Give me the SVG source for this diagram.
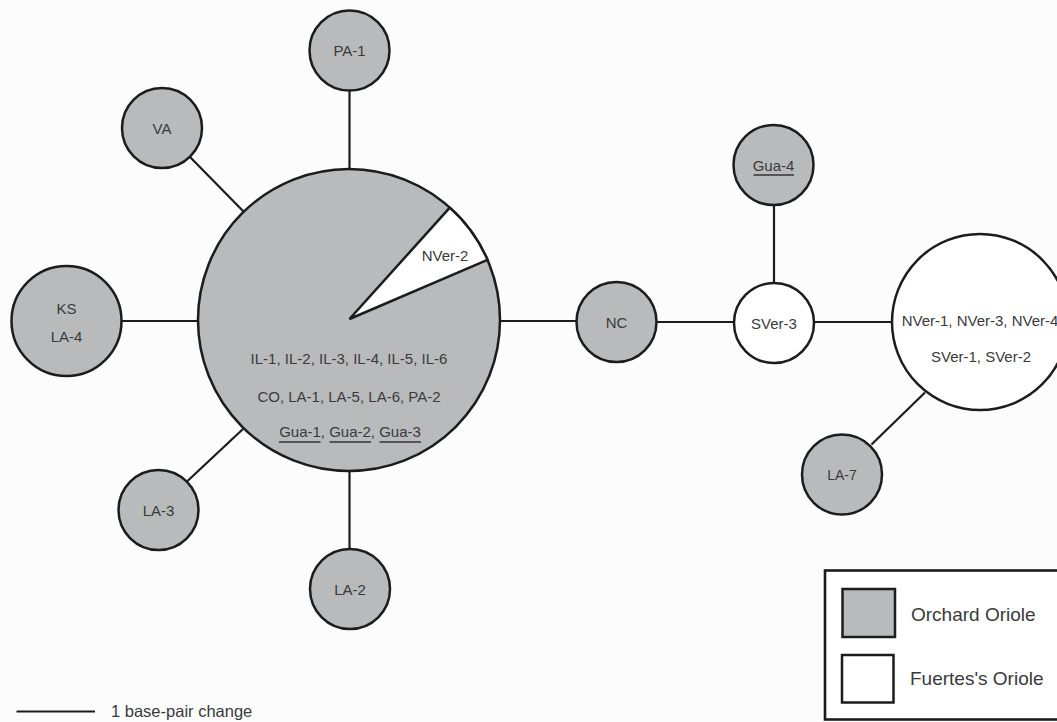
<svg xmlns="http://www.w3.org/2000/svg" width="1057" height="722" viewBox="0 0 1057 722">
<style>
  .bg{fill:#fcfcfc}
  .orch{fill:#b9babc;stroke:#1c1c1c;stroke-width:2.5}
  .fuer{fill:#ffffff;stroke:#1c1c1c;stroke-width:2.5}
  .edge{stroke:#1c1c1c;stroke-width:2.2;fill:none}
  .ul{stroke:#333;stroke-width:1.6}
  text{font-family:"Liberation Sans",Arial,Helvetica,sans-serif;font-size:15px;fill:#3a3a3a;text-anchor:middle}
  .leg{font-size:19px;text-anchor:start}
  .scale{font-size:16.5px;text-anchor:start}
</style>
<rect class="bg" x="0" y="0" width="1057" height="722"/>

<g id="connectors">
  <line class="edge" x1="349.5" y1="90" x2="349.5" y2="170"/>
  <line class="edge" x1="190" y1="157" x2="244" y2="212"/>
  <line class="edge" x1="121" y1="321" x2="199" y2="321"/>
  <line class="edge" x1="499" y1="321" x2="577" y2="321"/>
  <line class="edge" x1="656" y1="322" x2="734" y2="322"/>
  <line class="edge" x1="774" y1="205" x2="774" y2="283"/>
  <line class="edge" x1="814" y1="322" x2="892" y2="322"/>
  <line class="edge" x1="871.5" y1="444.5" x2="925" y2="392.5"/>
  <line class="edge" x1="187.5" y1="481" x2="243" y2="429"/>
  <line class="edge" x1="349.5" y1="470" x2="349.5" y2="549"/>
</g>

<g id="node-main">
  <circle class="orch" cx="349" cy="320" r="151"/>
  <path class="fuer" d="M349.5,319 L449.8,207.6 A151,151 0 0 1 487.5,259.8 Z"/>
  <text x="445" y="260.5">NVer-2</text>
  <text x="349" y="363.5">IL-1, IL-2, IL-3, IL-4, IL-5, IL-6</text>
  <text x="349" y="401.5">CO, LA-1, LA-5, LA-6, PA-2</text>
  <text x="350" y="437">Gua-1, Gua-2, Gua-3</text>
  <line class="ul" x1="279" y1="442" x2="320.5" y2="442"/>
  <line class="ul" x1="329.5" y1="442" x2="371" y2="442"/>
  <line class="ul" x1="379.5" y1="442" x2="421" y2="442"/>
</g>

<g id="node-PA-1">
  <circle class="orch" cx="349.5" cy="50.5" r="40"/>
  <text x="349.5" y="56">PA-1</text>
</g>
<g id="node-VA">
  <circle class="orch" cx="162" cy="128" r="40"/>
  <text x="162" y="134">VA</text>
</g>
<g id="node-KS-LA-4">
  <circle class="orch" cx="66.5" cy="321" r="55"/>
  <text x="66.5" y="313.5">KS</text>
  <text x="66.5" y="341.5">LA-4</text>
</g>
<g id="node-LA-3">
  <circle class="orch" cx="158.5" cy="510" r="40"/>
  <text x="158.5" y="516">LA-3</text>
</g>
<g id="node-LA-2">
  <circle class="orch" cx="350" cy="589" r="40"/>
  <text x="350" y="594.5">LA-2</text>
</g>
<g id="node-NC">
  <circle class="orch" cx="616.5" cy="322" r="40"/>
  <text x="616.5" y="327.5">NC</text>
</g>
<g id="node-Gua-4">
  <circle class="orch" cx="773.5" cy="165" r="40"/>
  <text x="773.5" y="170.5">Gua-4</text>
  <line class="ul" x1="753.5" y1="175" x2="794" y2="175"/>
</g>
<g id="node-SVer-3">
  <circle class="fuer" cx="774" cy="323" r="40"/>
  <text x="774" y="328.5">SVer-3</text>
</g>
<g id="node-NVer">
  <circle class="fuer" cx="980" cy="322" r="88"/>
  <text x="980" y="325.5">NVer-1, NVer-3, NVer-4</text>
  <text x="981" y="362">SVer-1, SVer-2</text>
</g>
<g id="node-LA-7">
  <circle class="orch" cx="842" cy="474.5" r="40"/>
  <text x="842" y="480" style="font-size:14px">LA-7</text>
</g>

<g id="legend">
  <rect x="825" y="570.5" width="260" height="149" fill="#ffffff" stroke="#1c1c1c" stroke-width="2.6"/>
  <rect class="orch" x="842.5" y="589" width="52.5" height="48" stroke-width="2.2"/>
  <text class="leg" x="911" y="620.5">Orchard Oriole</text>
  <rect class="fuer" x="842" y="655" width="51.5" height="47.5" stroke-width="2.2"/>
  <text class="leg" x="910" y="685">Fuertes's Oriole</text>
</g>

<g id="scale-bar">
  <line class="edge" x1="16.5" y1="711.5" x2="95" y2="711.5"/>
  <text class="scale" x="111" y="717">1 base-pair change</text>
</g>
</svg>
